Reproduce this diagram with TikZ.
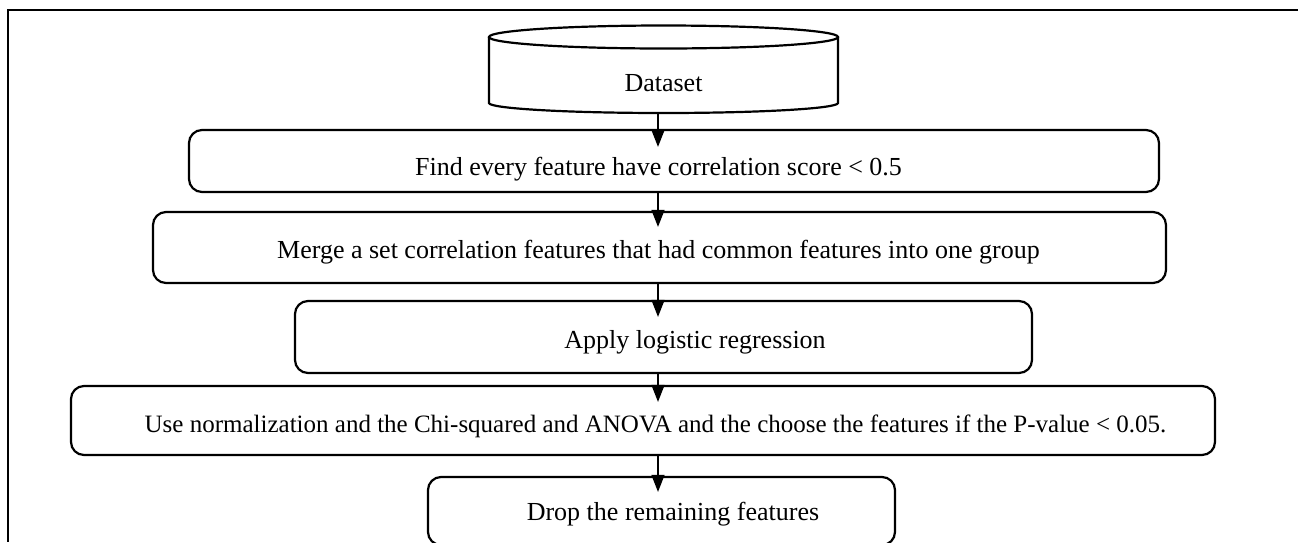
\documentclass[tikz,border=0pt]{standalone}
\usepackage{fontspec}
\setmainfont{Liberation Serif}
\usetikzlibrary{arrows.meta}
\begin{document}
\begin{tikzpicture}[x=1pt,y=-1pt,
  box/.style={draw, line width=2.2pt, rounded corners=13pt, inner sep=0pt},
  lbl/.style={font=\fontsize{26}{30}\selectfont, anchor=base, inner sep=0pt},
  arr/.style={line width=1.3pt, -{Triangle[length=17pt,width=13pt]}},
  frameline/.style={line width=2pt},
  cyl/.style={line width=2.2pt}]
\useasboundingbox (0,0) rectangle (1298,542);
% outer frame (partly visible)
\draw[frameline] (1298,10) -- (8,10) -- (8,542);
% cylinder
\draw[cyl] (663.5,37) ellipse [x radius=174.5, y radius=11.5];
\draw[cyl] (489,37) -- (489,103) .. controls (489,108.5) and (567.1,113) .. (663.5,113)
   .. controls (759.9,113) and (838,108.5) .. (838,103) -- (838,37);
\node[lbl] (ds) at (663.5,91) {Dataset};
\coordinate (cylbot) at (658,113);
% boxes
\node[box, minimum width=970pt, minimum height=62pt] (b1) at (674,161) {};
\node[box, minimum width=1013pt, minimum height=71pt] (b2) at (659.5,247.5) {};
\node[box, minimum width=737pt, minimum height=72pt] (b3) at (663.5,337) {};
\node[box, minimum width=1144pt, minimum height=69pt] (b4) at (643,420.5) {};
\node[box, minimum width=467pt, minimum height=68pt] (b5) at (661.5,511) {};
% texts
\node[lbl] (t1) at (658.5,175) {Find every feature have correlation score < 0.5};
\node[lbl] (t2) at (658.5,258) {Merge a set correlation features that had common features into one group};
\node[lbl] (t3) at (695,348) {Apply logistic regression};
\node[lbl, font=\fontsize{25}{30}\selectfont] (t4) at (655.5,432) {Use normalization and the Chi-squared and ANOVA and the choose the features if the P-value < 0.05.};
\node[lbl] (t5) at (673,520) {Drop the remaining features};
% arrows
\draw[arr] (cylbot) -- ([yshift=-18pt]b1.north -| cylbot);
\draw[arr] (b1.south -| cylbot) -- ([yshift=-16pt]b2.north -| cylbot);
\draw[arr] (b2.south -| cylbot) -- ([yshift=-17pt]b3.north -| cylbot);
\draw[arr] (b3.south -| cylbot) -- ([yshift=-17pt]b4.north -| cylbot);
\draw[arr] (b4.south -| cylbot) -- ([yshift=-16pt]b5.north -| cylbot);
\end{tikzpicture}
\end{document}
